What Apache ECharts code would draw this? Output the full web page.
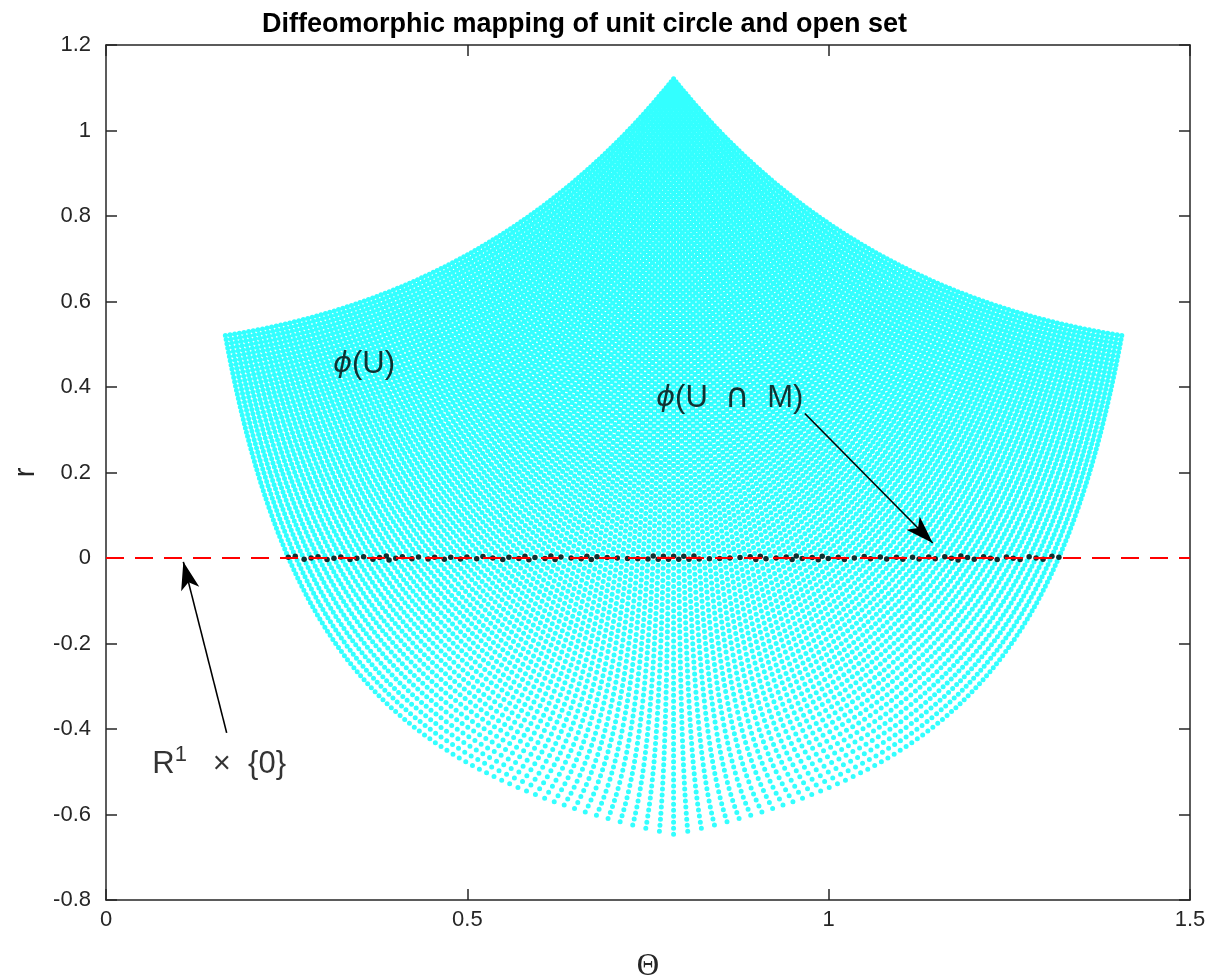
<!DOCTYPE html>
<html>
<head>
    <meta charset="utf-8">
    <script src="https://cdn.jsdelivr.net/npm/echarts@6/dist/echarts.min.js"></script>
    <title>Diffeomorphic mapping of unit circle and open set</title>
    <style>html,body{margin:0;padding:0;background:#fff;}</style>
</head>
<body>
    <div id="main" style="width:1211px;height:980px;"></div>
    <script type="text/javascript">
    // sample coordinates of the square U = [0.25,1.5] x [0.25,1.5] (same list on both sides)
    var uGrid = [0.25,0.26,0.27,0.28,0.29,0.30,0.31,0.32,0.33,0.34,0.35,0.36,0.37,0.38,0.39,
        0.40,0.41,0.42,0.43,0.44,0.45,0.46,0.47,0.48,0.49,0.50,0.51,0.52,0.53,0.54,0.55,0.56,
        0.57,0.58,0.59,0.60,0.61,0.62,0.63,0.64,0.65,0.66,0.67,0.68,0.69,0.70,0.71,0.72,0.73,
        0.74,0.75,0.76,0.77,0.78,0.79,0.80,0.81,0.82,0.83,0.84,0.85,0.86,0.87,0.88,0.89,0.90,
        0.91,0.92,0.93,0.94,0.95,0.96,0.97,0.98,0.99,1.00,1.01,1.02,1.03,1.04,1.05,1.06,1.07,
        1.08,1.09,1.10,1.11,1.12,1.13,1.14,1.15,1.16,1.17,1.18,1.19,1.20,1.21,1.22,1.23,1.24,
        1.25,1.26,1.27,1.28,1.29,1.30,1.31,1.32,1.33,1.34,1.35,1.36,1.37,1.38,1.39,1.40,1.41,
        1.42,1.43,1.44,1.45,1.46,1.47,1.48,1.49,1.50];
    // grid points counted as lying on the unit circle M: |x^2+y^2-1| < circleTol
    var circleTol = 0.01;
    var zeroLine = [[0, 0], [1.5, 0]];

    var noteText = ['{p|ϕ}(U)', '{p|ϕ}(U  {c|∩}  M)', 'R{s|1}   ×  {0}'];
    var notePos = [[0.314, 0.452], [0.761, 0.374], [0.064, -0.482]];
    var arrowFrom = [[0.967, 0.338], [0.167, -0.409]];
    var arrowTo = [[1.144, 0.035], [0.107, -0.009]];

    // (Θ, r) = polar angle and radius - 1 of each grid point of U
    var cloud = [], onCircle = [];
    uGrid.forEach(function (gx) {
        uGrid.forEach(function (gy) {
            var rr = gx * gx + gy * gy;
            var p = [Math.atan2(gy, gx), Math.sqrt(rr) - 1];
            cloud.push(p);
            if (Math.abs(rr - 1) < circleTol) onCircle.push(p);
        });
    });

    var notes = notePos.map(function (p, i) {
        return { value: p, name: noteText[i] };
    });
    var arrows = arrowFrom.map(function (a, i) {
        return [
            { coord: a, symbol: 'none' },
            { coord: arrowTo[i], symbol: 'arrow', symbolSize: [14, 28] }
        ];
    });

    var dark = '#262626';
    var font = 'Liberation Sans, Arial, Helvetica, sans-serif';
    var axisLine = { onZero: false, lineStyle: { color: dark, width: 1.5 } };
    var axisTick = { inside: true, length: 11, lineStyle: { color: dark, width: 1.5 } };
    var tickFont = { fontSize: 22, color: dark, fontFamily: font };

    var myChart = echarts.init(document.getElementById('main'));
    myChart.setOption({
        animation: false,
        backgroundColor: '#fff',
        title: {
            text: 'Diffeomorphic mapping of unit circle and open set',
            left: 262, top: 11, padding: 0,
            textStyle: { fontSize: 27, fontWeight: 'bold', color: '#000', fontFamily: font }
        },
        grid: { left: 106, right: 21, top: 45, bottom: 80, outerBoundsMode: 'none', containLabel: false },
        xAxis: [{
            type: 'value', min: 0, max: 1.5, interval: 0.5,
            name: 'Θ', nameLocation: 'middle', nameGap: 51,
            nameTextStyle: { fontFamily: 'Liberation Serif, serif', fontSize: 31, color: dark },
            axisLine: axisLine, axisTick: axisTick, splitLine: { show: false },
            axisLabel: Object.assign({ margin: 9 }, tickFont)
        }, {
            type: 'value', min: 0, max: 1.5, interval: 0.5, position: 'top',
            axisLine: axisLine, axisTick: axisTick, splitLine: { show: false },
            axisLabel: { show: false }
        }],
        yAxis: [{
            type: 'value', min: -0.8, max: 1.2, interval: 0.2,
            name: 'r', nameLocation: 'middle', nameGap: 66, nameRotate: 90,
            nameTextStyle: { fontFamily: font, fontSize: 29, color: dark },
            axisLine: axisLine, axisTick: axisTick, splitLine: { show: false },
            axisLabel: Object.assign({ margin: 15 }, tickFont)
        }, {
            type: 'value', min: -0.8, max: 1.2, interval: 0.2, position: 'right',
            axisLine: axisLine, axisTick: axisTick, splitLine: { show: false },
            axisLabel: { show: false }
        }],
        series: [{
            name: 'phi(U)', type: 'scatter', data: cloud,
            symbol: 'circle', symbolSize: 5,
            itemStyle: { color: '#00FFFF' },
            large: true, largeThreshold: 2000, progressive: 0, silent: true
        }, {
            name: 'R1 x {0}', type: 'line', data: zeroLine, symbol: 'none',
            lineStyle: { color: '#FF0000', width: 2, type: [18, 11] },
            silent: true,
            markLine: {
                silent: true, animation: false,
                symbol: ['none', 'arrow'], symbolSize: 24,
                label: { show: false },
                lineStyle: { color: '#000', width: 1.6, type: 'solid' },
                emphasis: { disabled: true },
                data: arrows
            }
        }, {
            name: 'phi(U n M)', type: 'scatter', data: onCircle,
            symbolSize: 5.5, itemStyle: { color: '#000' }, silent: true
        }, {
            name: 'notes', type: 'scatter', data: notes, symbolSize: 0, silent: true,
            label: {
                show: true, position: 'right', distance: 0,
                formatter: function (p) { return p.name; },
                fontFamily: font, fontSize: 31, lineHeight: 40, color: '#000',
                rich: {
                    p: { fontFamily: 'DejaVu Sans, sans-serif', fontStyle: 'italic', fontSize: 29, color: '#000' },
                    c: { fontFamily: 'DejaVu Sans, sans-serif', fontSize: 34, color: '#000' },
                    s: { fontFamily: font, fontSize: 22, lineHeight: 22, color: '#000', verticalAlign: 'top' }
                }
            }
        }]
    });
    </script>
</body>
</html>
